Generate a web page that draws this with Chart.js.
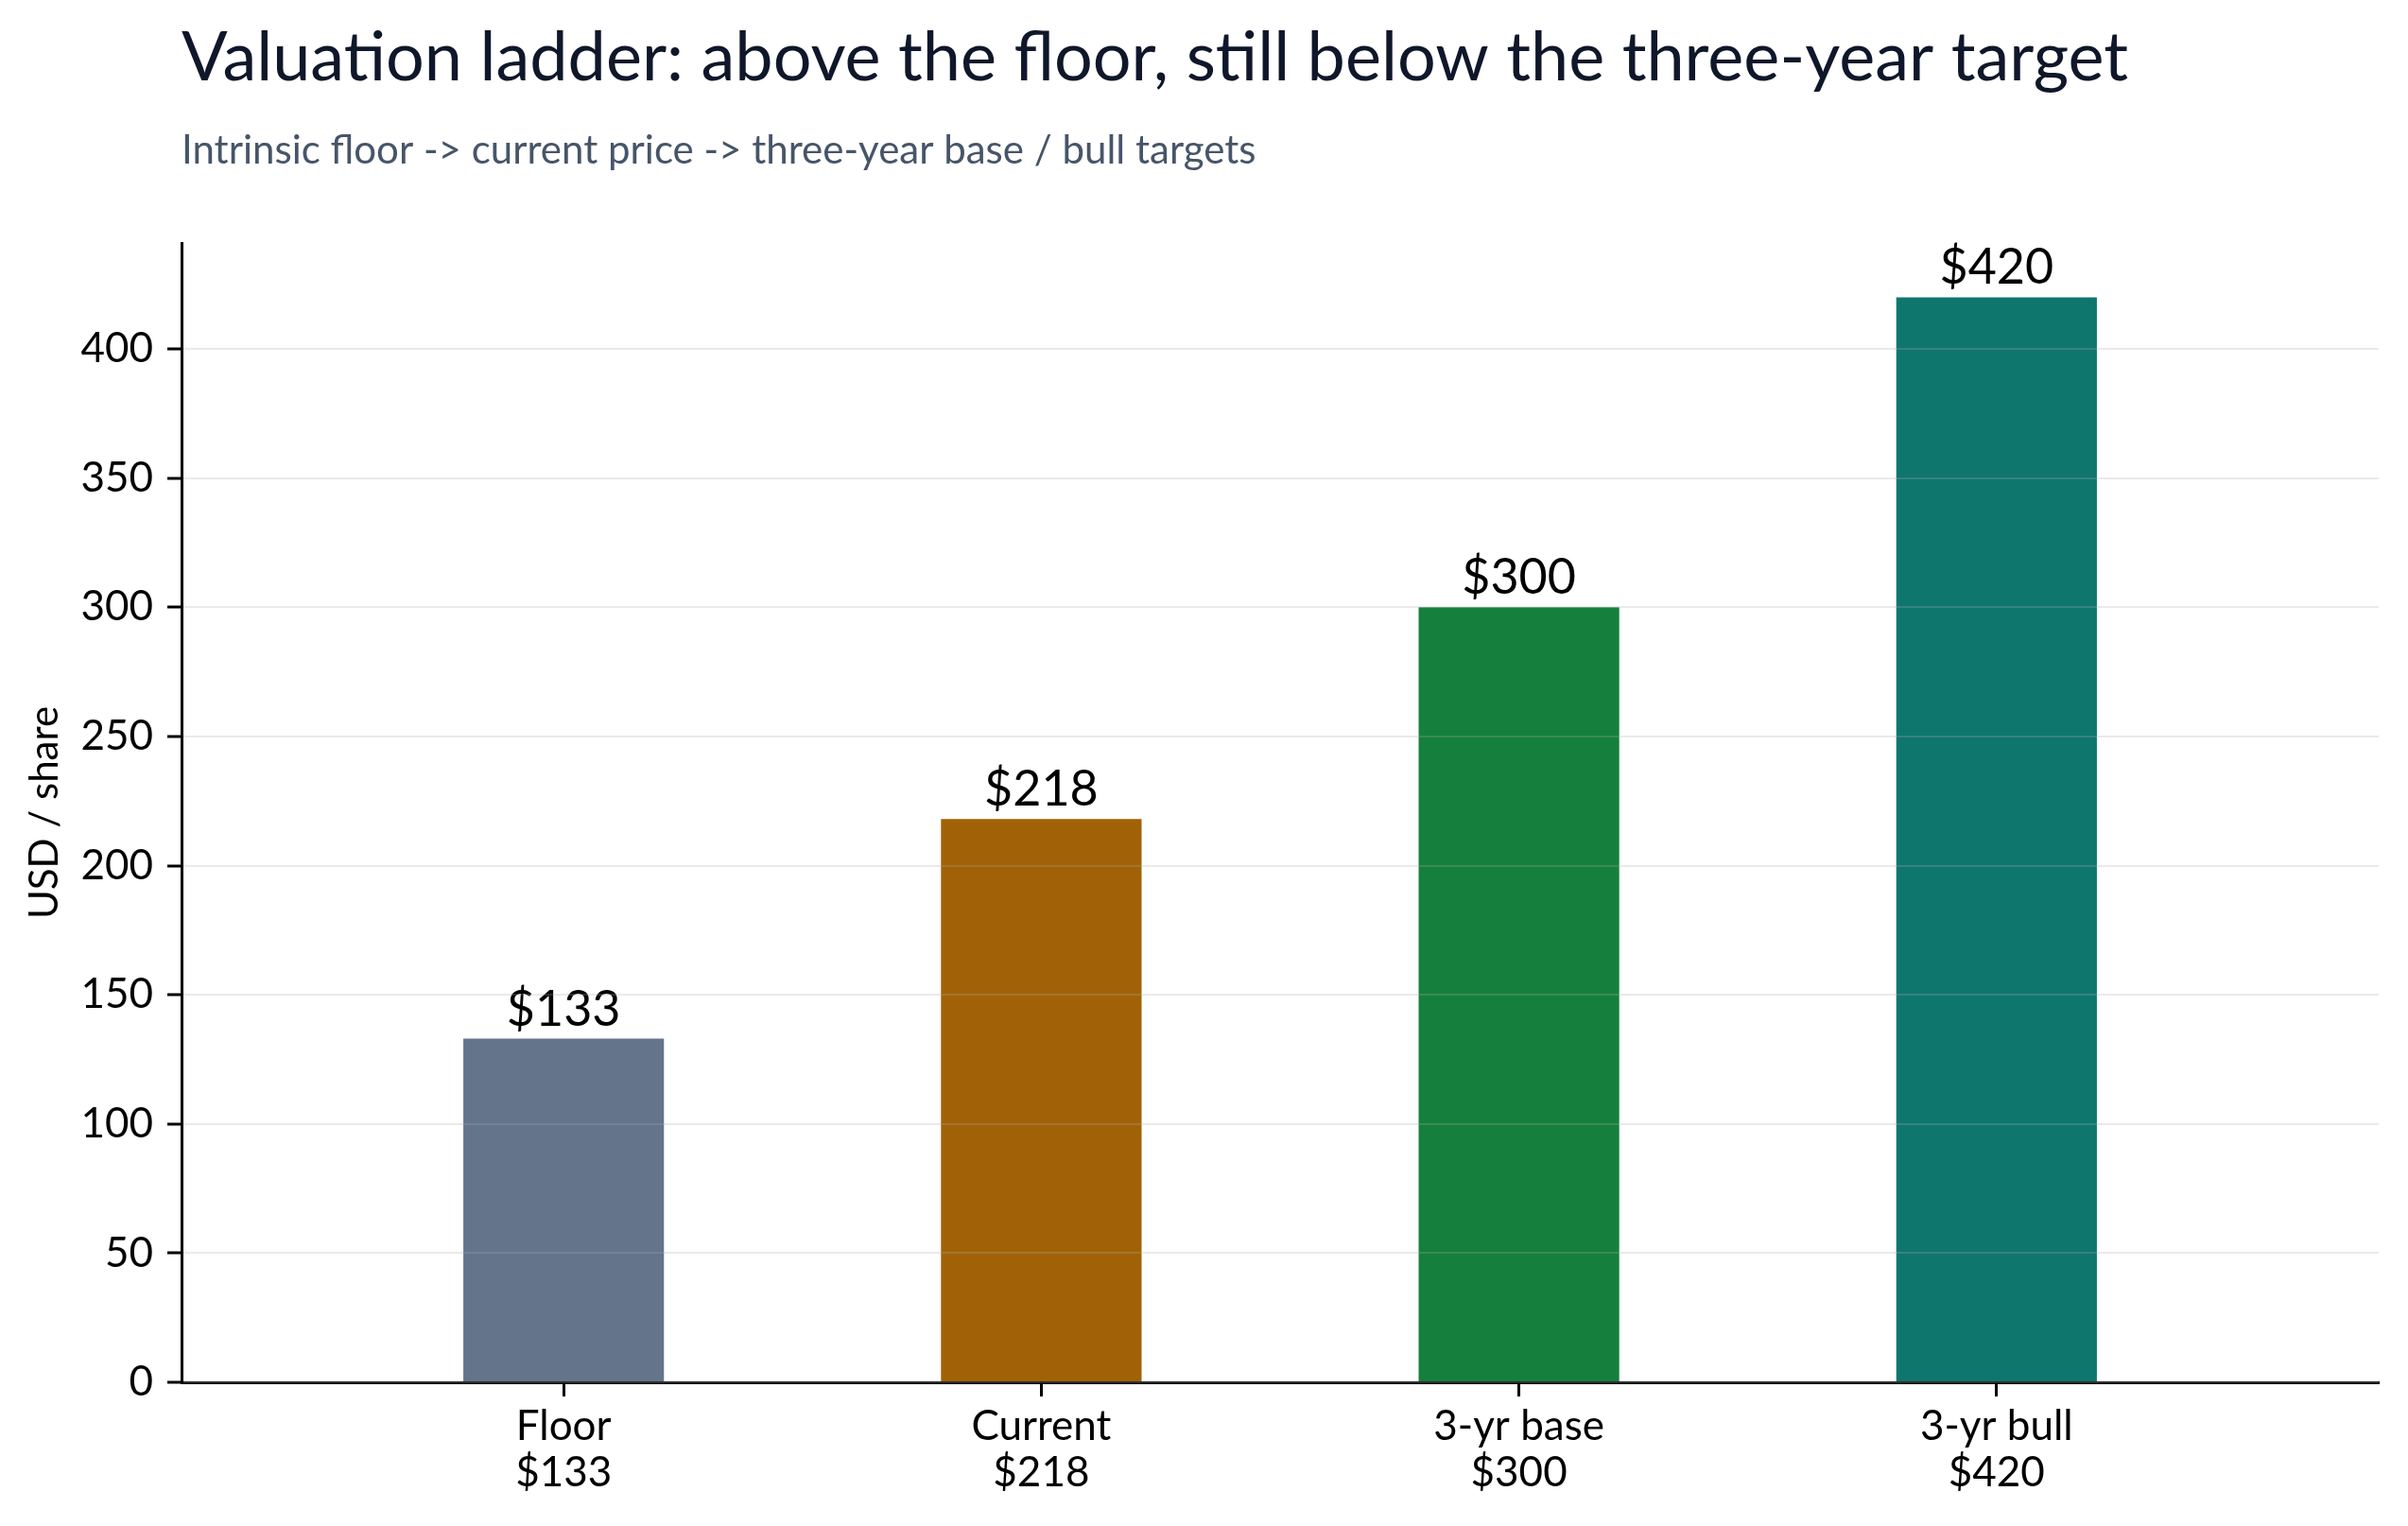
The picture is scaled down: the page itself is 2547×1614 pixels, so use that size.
<!DOCTYPE html>
<html><head><meta charset="utf-8">
<script src="https://cdn.jsdelivr.net/npm/chart.js@4.4.1/dist/chart.umd.min.js"></script>
<style>html,body{margin:0;padding:0;background:#fff;} #wrap{width:2547px;height:1614px;}</style>
</head><body><div id="wrap"><canvas id="c" width="2547" height="1614"></canvas></div>
<script>
const categories = ["Floor", "Current", "3-yr base", "3-yr bull"];
const values = [133, 218, 300, 420];
const barColors = ["#64748b", "#a16207", "#15803d", "#0f766e"];
const yTicks = [0, 50, 100, 150, 200, 250, 300, 350, 400];
const titleText = "Valuation ladder: above the floor, still below the three-year target";
const subtitleText = "Intrinsic floor -> current price -> three-year base / bull targets";
const yAxisTitle = "USD / share";
const FONT = "Lato, 'Noto Sans', sans-serif";

const money = v => "$" + v;

const headerPlugin = {
  id: 'header',
  afterDraw(chart) {
    const ctx = chart.ctx, x = chart.chartArea.left;
    ctx.save();
    ctx.textAlign = 'left';
    ctx.textBaseline = 'alphabetic';
    ctx.fillStyle = '#0f172a';
    ctx.font = `72px ${FONT}`;
    ctx.fillText(titleText, x, 85, 2082);
    ctx.fillStyle = '#475569';
    ctx.font = `42px ${FONT}`;
    ctx.fillText(subtitleText, x, 173, 1182);
    ctx.restore();
  }
};

const barLabelPlugin = {
  id: 'barLabels',
  afterDatasetsDraw(chart) {
    const ctx = chart.ctx;
    const meta = chart.getDatasetMeta(0);
    ctx.save();
    ctx.textAlign = 'center';
    ctx.textBaseline = 'alphabetic';
    ctx.fillStyle = '#000';
    ctx.font = `52px ${FONT}`;
    meta.data.forEach((bar, i) => {
      ctx.fillText(money(values[i]), bar.x, bar.y - 14);
    });
    ctx.restore();
  }
};

new Chart(document.getElementById('c'), {
  type: 'bar',
  data: {
    datasets: [{
      data: values.map((v, i) => ({ x: i, y: v })),
      backgroundColor: barColors,
      borderWidth: 0,
      categoryPercentage: 1,
      barPercentage: 0.42
    }]
  },
  options: {
    responsive: false,
    devicePixelRatio: 1,
    animation: false,
    layout: { padding: { top: 257, right: 31, left: 0, bottom: 0 } },
    plugins: { legend: { display: false }, tooltip: { enabled: false } },
    scales: {
      x: {
        type: 'linear',
        offset: false,
        min: -0.8, max: 3.8,
        afterBuildTicks: s => { s.ticks = categories.map((c, i) => ({ value: i })); },
        afterFit: s => { s.height = 152; },
        grid: { offset: false, drawOnChartArea: false, drawTicks: true, tickLength: 15, tickColor: '#000', tickWidth: 3 },
        border: { color: '#000', width: 3, z: 1 },
        ticks: {
          font: { family: FONT, size: 44, lineHeight: 1.1 },
          color: '#000', padding: 8, autoSkip: false, maxRotation: 0,
          callback: v => [categories[v], money(values[v])]
        }
      },
      y: {
        min: 0, max: 441,
        afterBuildTicks: s => { s.ticks = yTicks.map(v => ({ value: v })); },
        afterFit: s => { s.width = 192; },
        grid: { color: 'rgba(170,170,170,0.25)', lineWidth: 2, tickLength: 15, tickColor: '#000', tickWidth: 3, z: 1 },
        border: { color: '#000', width: 3, z: 1 },
        ticks: { font: { family: FONT, size: 44 }, color: '#000', padding: 15 },
        title: { display: true, text: yAxisTitle, color: '#000', font: { family: FONT, size: 42 }, padding: { top: 22, bottom: 0 } }
      }
    }
  },
  plugins: [headerPlugin, barLabelPlugin]
});
</script>
</body></html>
